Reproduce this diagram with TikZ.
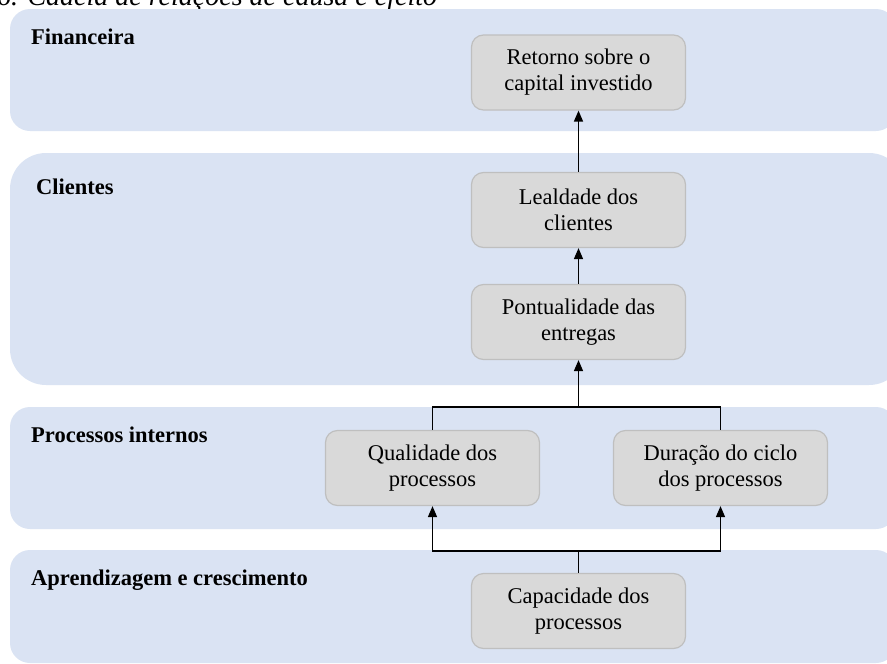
\documentclass[tikz,border=0pt]{standalone}
\usepackage{fontspec}
\setmainfont{Liberation Serif}
\usetikzlibrary{arrows.meta}
\definecolor{bandblue}{HTML}{DAE3F3}
\definecolor{boxgray}{HTML}{D9D9D9}
\definecolor{boxedge}{HTML}{BFBFBF}
\begin{document}
\begin{tikzpicture}[x=1pt,y=-1pt,
  band/.style={fill=bandblue, draw=none},
  stepbox/.style={draw=boxedge, line width=1.2pt, fill=boxgray, rounded corners=12pt,
    minimum width=214pt, minimum height=75pt, align=center, inner sep=0pt,
    font=\fontsize{22.5}{26}\selectfont},
  bandlabel/.style={anchor=base west, inner sep=0pt, font=\fontsize{22.5}{26}\selectfont\bfseries},
  link/.style={line width=1.5pt},
  arrowlink/.style={link, -{Triangle[width=9pt,length=11pt]}}
]
\useasboundingbox (0,0) rectangle (887,664);
\clip (0,0) rectangle (887,664);

% caption line above the chart
\node[anchor=base west, inner sep=0pt, font=\fontsize{28}{32}\selectfont\itshape]
  (caption) at (-3,5) {6. Cadeia de relações de causa e efeito};

% perspective bands
\fill[band, rounded corners=20pt] (10,9) rectangle (896,131);
\fill[band, rounded corners=36pt] (10,153) rectangle (905,385);
\fill[band, rounded corners=20pt] (10,407) rectangle (896,529);
\fill[band, rounded corners=20pt] (10,550) rectangle (896,663);

\node[bandlabel] (lfin) at (31,44.5) {Financeira};
\node[bandlabel] (lcli) at (36,194) {Clientes};
\node[bandlabel] (lproc) at (31,442) {Processos internos};
\node[bandlabel] (lapr) at (31,585) {Aprendizagem e crescimento};

% objectives
\node[stepbox] (ret)  at (578.5,72.5)  {Retorno sobre o\\capital investido};
\node[stepbox] (leal) at (578.5,210)   {Lealdade dos\\clientes};
\node[stepbox] (pont) at (578.5,322)   {Pontualidade das\\entregas};
\node[stepbox] (qual) at (432.5,468)   {Qualidade dos\\processos};
\node[stepbox] (dur)  at (720.5,468)   {Duração do ciclo\\dos processos};
\node[stepbox] (cap)  at (578.5,611)   {Capacidade dos\\processos};

% cause-and-effect links
\draw[arrowlink] (leal.north) -- (ret.south);
\draw[arrowlink] (pont.north) -- (leal.south);

\coordinate (jtop) at (578.5,407);
\draw[link] (qual.north) |- (jtop) -| (dur.north);
\draw[arrowlink] (jtop) -- (pont.south);

\coordinate (jbot) at (578.5,551);
\draw[link] (cap.north) -- (jbot);
\draw[arrowlink] (jbot) -| (qual.south);
\draw[arrowlink] (jbot) -| (dur.south);
\end{tikzpicture}
\end{document}
